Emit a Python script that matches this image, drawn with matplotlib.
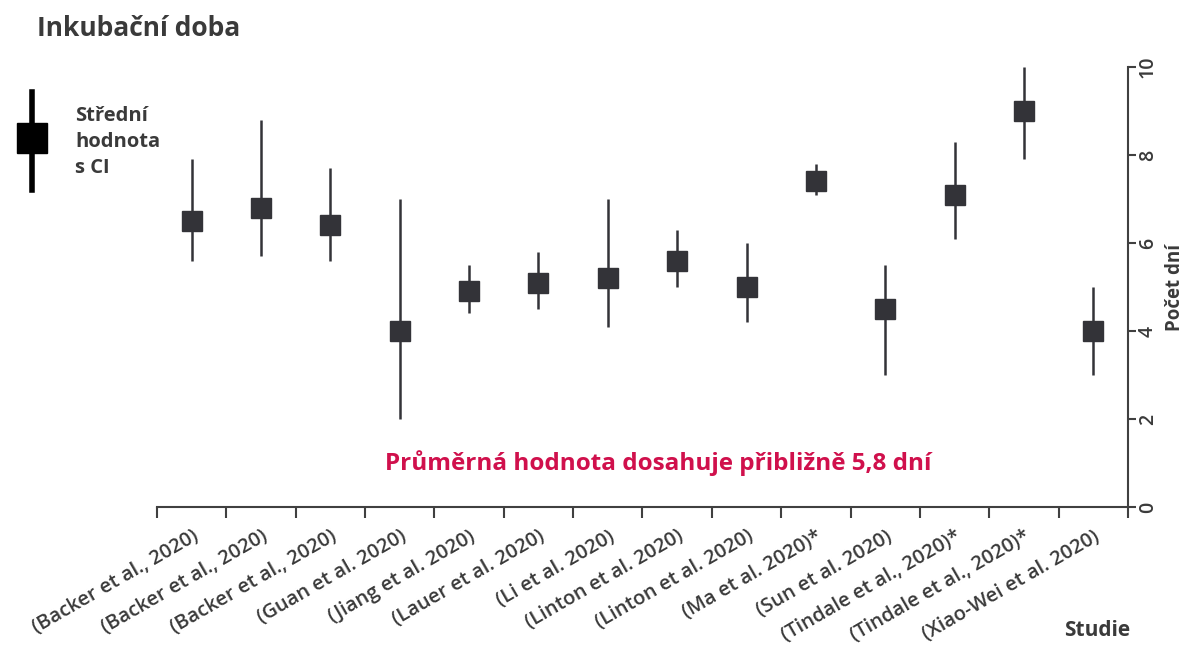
import numpy as np
import matplotlib
matplotlib.use("Agg")
import matplotlib.pyplot as plt
from matplotlib.lines import Line2D
from matplotlib.patches import Rectangle

plt.rcParams['font.family'] = ['Open Sans', 'DejaVu Sans']

# data
studies = ['(Backer et al., 2020)', '(Backer et al., 2020)', '(Backer et al., 2020)',
           '(Guan et al. 2020)', '(Jiang et al. 2020)', '(Lauer et al. 2020)',
           '(Li et al. 2020)', '(Linton et al. 2020)', '(Linton et al. 2020)',
           '(Ma et al. 2020)*', '(Sun et al. 2020)', '(Tindale et al., 2020)*',
           '(Tindale et al., 2020)*', '(Xiao-Wei et al. 2020)']
mean_days = [6.5, 6.8, 6.4, 4.0, 4.9, 5.1, 5.2, 5.6, 5.0, 7.4, 4.5, 7.1, 9.0, 4.0]
ci_low = [5.6, 5.7, 5.6, 2.0, 4.4, 4.5, 4.1, 5.0, 4.2, 7.1, 3.0, 6.1, 7.9, 3.0]
ci_high = [7.9, 8.8, 7.7, 7.0, 5.5, 5.8, 7.0, 6.3, 6.0, 7.8, 5.5, 8.3, 10.0, 5.0]
y_ticks = [0, 2, 4, 6, 8, 10]

dark = '#333338'
text_col = '#3a3a3a'

fig = plt.figure(figsize=(11.87, 6.47), dpi=100)
ax = fig.add_axes([157 / 1187, 1 - 507 / 647, (1128 - 157) / 1187, (507 - 67) / 647])

x = np.arange(len(studies))
means = np.array(mean_days)
yerr = [means - np.array(ci_low), np.array(ci_high) - means]
ax.errorbar(x, means, yerr=yerr, fmt='s', color=dark, ecolor=dark,
            elinewidth=1.8, capsize=0, markersize=14, zorder=3)

ax.set_xlim(-0.5, len(studies) - 0.5)
ax.set_ylim(0, 10)

# spines: bottom and right only
for s in ['top', 'left']:
    ax.spines[s].set_visible(False)
for s in ['bottom', 'right']:
    ax.spines[s].set_color('#404040')
    ax.spines[s].set_linewidth(1.5)

# y axis on the right
ax.yaxis.tick_right()
ax.set_yticks(y_ticks)
ax.set_yticklabels([str(v) for v in y_ticks], rotation=90, va='center',
                   fontsize=14, fontweight='semibold', color=text_col)
ax.tick_params(axis='y', length=6, width=1.5, color='#404040', pad=1)
ax.yaxis.set_label_position('right')
ax.set_ylabel('Počet dní', fontsize=13.5, fontweight='bold', color=text_col,
              labelpad=5)

# x axis: labels at centers, tick marks at boundaries
ax.set_xticks(x)
ax.set_xticklabels(studies, rotation=30, ha='right', va='top',
                   rotation_mode='anchor', fontsize=14.5,
                   fontweight='semibold', color=text_col)
ax.tick_params(axis='x', which='major', length=0, pad=14)
ax.set_xticks(np.arange(len(studies) + 1) - 0.5, minor=True)
ax.tick_params(axis='x', which='minor', length=8, width=1.5, color='#404040')

# texts
fig.text(37 / 1187, 1 - 28 / 647, 'Inkubační doba', fontsize=19, fontweight='bold',
         color=text_col, va='center', ha='left')
ax.text(0.516, 0.1, 'Průměrná hodnota dosahuje přibližně 5,8 dní',
        transform=ax.transAxes, ha='center', va='center', fontsize=17.5,
        fontweight='bold', color='#d0104c')
fig.text(1097 / 1187, 1 - 630 / 647, 'Studie', fontsize=15, fontweight='bold',
         color=text_col, ha='center', va='center')

# legend glyph
fig.add_artist(Line2D([32 / 1187, 32 / 1187], [1 - 92 / 647, 1 - 190 / 647],
                      color='black', linewidth=4, transform=fig.transFigure))
fig.add_artist(Rectangle((17 / 1187, 1 - 153 / 647), 30 / 1187, 30 / 647,
                         color='black', transform=fig.transFigure))
fig.text(75 / 1187, 1 - 142 / 647, 'Střední\nhodnota\ns CI', fontsize=14.5,
         fontweight='bold', color=text_col, ha='left', va='center',
         linespacing=1.4)

fig.savefig('out.png', dpi=100)
